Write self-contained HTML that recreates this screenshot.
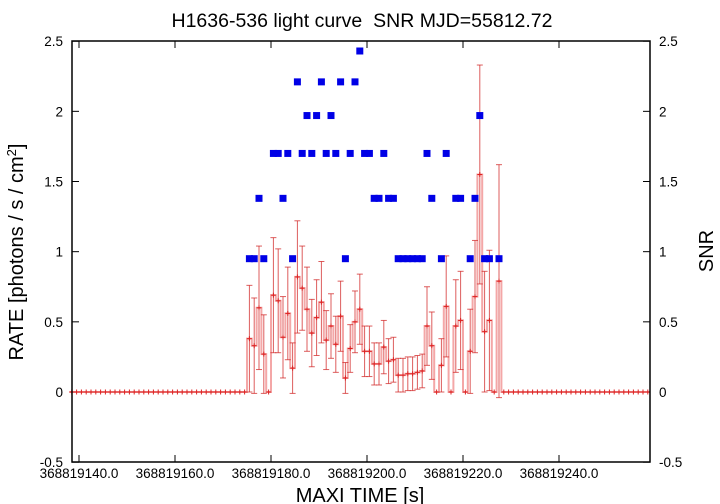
<!DOCTYPE html>
<html><head><meta charset="utf-8"><style>
body{margin:0;background:#fff;}
svg{display:block;font-family:"Liberation Sans",sans-serif;}
</style></head><body>
<svg id="chart" width="720" height="504" viewBox="0 0 720 504">
<text x="362" y="27" font-size="19.5" text-anchor="middle" style="white-space:pre">H1636-536 light curve  SNR MJD=55812.72</text>
<g id="axes"></g>
<g id="rate"></g>
<g id="snr"></g>
<rect x="72" y="41" width="578" height="421" fill="none" stroke="#000" stroke-width="1.5"/>
<text transform="translate(23,252) rotate(-90)" font-size="20" text-anchor="middle">RATE [photons / s / cm<tspan baseline-shift="super" font-size="13">2</tspan>]</text>
<text transform="translate(713,251) rotate(-90)" font-size="20" text-anchor="middle">SNR</text>
<text x="360" y="502" font-size="20" text-anchor="middle">MAXI TIME [s]</text>
</svg>
<script>
const xTicks = [140, 160, 180, 200, 220, 240];
const yTicks = [-0.5, 0, 0.5, 1, 1.5, 2, 2.5];
const activeStart = 175.5;
const rates = [.38,.33,.60,.27,0,.69,.65,.39,.56,.17, .82,.74,.59,.42,.53,.64,.37,.47,.34,.54, .10,.31,.50,.59,.29,.29,.20,.20,.32,.22, .23,.12,.12,.13,.13,.14,.15,.47,.33,0, .19,.61,0,.47,.51,0,.29,.68,1.55,.43, .51,0,.79];
const errors = [.38,.34,.44,.28,0,.41,.37,.29,.33,.18, .4,.3,.3,.24,.27,.29,.21,.23,.2,.25, .11,.17,.22,.25,.18,.18,.15,.15,.19,.16, .16,.12,.12,.12,.12,.12,.12,.28,.24,0, .19,.36,0,.33,.35,0,.3,.4,.78,.43, .5,0,.83];
const snr = [.95,.95,1.38,.95,null,1.7,1.7,1.38,1.7,.95, 2.21,1.7,1.97,1.7,1.97,2.21,1.7,1.97,1.7,2.21, .95,1.7,2.21,2.43,1.7,1.7,1.38,1.38,1.7,1.38, 1.38,.95,.95,.95,.95,.95,.95,1.7,1.38,null, .95,1.7,null,1.38,1.38,null,.95,1.38,1.97,.95, .95,null,.95];
const tMin = 138.5, tMax = 258.5;

const NS = "http://www.w3.org/2000/svg";
function X(t){ return 79 + (t - 140) * 4.8; }
function Y(v){ return 392 - v * 140.33; }
function mk(tag, attrs, parent){ const e = document.createElementNS(NS, tag); for (const k in attrs) e.setAttribute(k, attrs[k]); parent.appendChild(e); return e; }

const axes = document.getElementById('axes');
xTicks.forEach(t => {
  const g = mk('g', {}, axes);
  
  
  mk('line', {x1:X(t), x2:X(t), y1:462, y2:455, stroke:'#000'}, g);
  mk('line', {x1:X(t), x2:X(t), y1:41, y2:48, stroke:'#000'}, g);
  const tx = mk('text', {x:X(t), y:478, 'font-size':13.5, 'text-anchor':'middle'}, g);
  tx.textContent = '368819' + t + '.0';
});
yTicks.forEach(v => {
  const g = mk('g', {}, axes);
  
  
  mk('line', {x1:72, x2:79, y1:Y(v), y2:Y(v), stroke:'#000'}, g);
  mk('line', {x1:650, x2:643, y1:Y(v), y2:Y(v), stroke:'#000'}, g);
  const a = mk('text', {x:63, y:Y(v)+5, 'font-size':13.5, 'text-anchor':'end'}, g);
  a.textContent = String(v);
  const b = mk('text', {x:659, y:Y(v)+5, 'font-size':13.5, 'text-anchor':'start'}, g);
  b.textContent = String(v);
});

const ts = [], rv = [], ev = [], sv = [];
for (let t = tMin; t <= tMax + 0.001; t += 1) {
  const i = Math.round(t - activeStart);
  ts.push(t);
  if (i >= 0 && i < rates.length) { rv.push(rates[i]); ev.push(errors[i]); sv.push(snr[i]); }
  else { rv.push(0); ev.push(0); sv.push(null); }
}
const rg = document.getElementById('rate');
let d = '';
ts.forEach((t, i) => {
  const x0 = X(t - 0.5), x1 = X(t + 0.5), y = Y(rv[i]);
  d += (i === 0 ? 'M' : 'L') + x0 + ',' + y + ' L' + x1 + ',' + y + ' ';
});
const step = mk('path', {d:d, fill:'none', stroke:'rgba(230,60,60,0.45)', 'stroke-width':2}, rg);


ts.forEach((t, i) => {
  const g = mk('g', {stroke:'#d22', 'stroke-width':1}, rg);
  
  
  const x = X(t), y = Y(rv[i]);
  if (ev[i] > 0) {
    const yt = Y(rv[i] + ev[i]), yb = Y(rv[i] - ev[i]);
    mk('line', {x1:x, x2:x, y1:yt, y2:yb, stroke:'rgba(210,40,40,0.75)'}, g);
    mk('line', {x1:x-3, x2:x+3, y1:yt, y2:yt, stroke:'rgba(210,40,40,0.75)'}, g);
    mk('line', {x1:x-3, x2:x+3, y1:yb, y2:yb, stroke:'rgba(210,40,40,0.75)'}, g);
  }
  mk('line', {x1:x-2.5, x2:x+2.5, y1:y, y2:y}, g);
  mk('line', {x1:x, x2:x, y1:y-2.5, y2:y+2.5}, g);
});
const sg = document.getElementById('snr');
ts.forEach((t, i) => {
  if (sv[i] == null) return;
  const r = mk('rect', {x:X(t)-3.5, y:Y(sv[i])-3.5, width:7, height:7, fill:'#0000e6'}, sg);
  
  
});
</script>
</body></html>
